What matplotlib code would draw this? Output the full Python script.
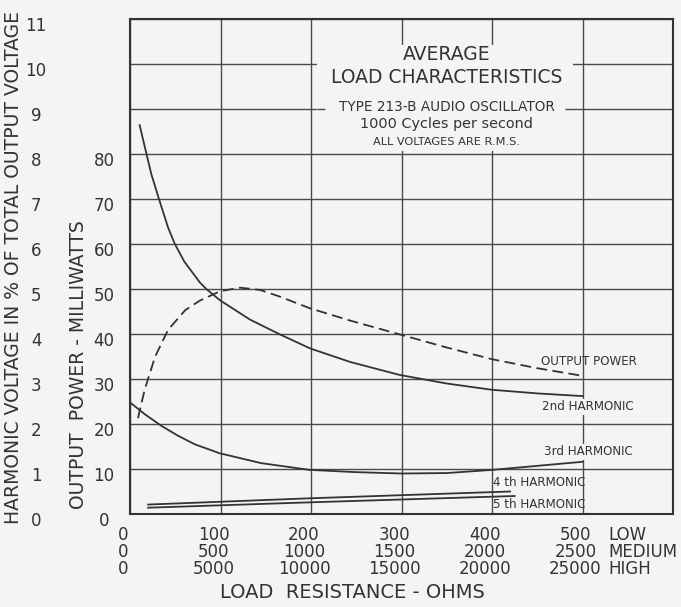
import matplotlib
matplotlib.use('Agg')
import matplotlib.pyplot as plt
import matplotlib.transforms as mtransforms
from matplotlib.patches import Rectangle

# ---------------- data ----------------
low_ticks = [0, 100, 200, 300, 400, 500]
medium_ticks = [0, 500, 1000, 1500, 2000, 2500]
high_ticks = [0, 5000, 10000, 15000, 20000, 25000]
range_names = ["LOW", "MEDIUM", "HIGH"]
harm_ticks = list(range(0, 12))
power_ticks = list(range(0, 90, 10))

# output power (mW) vs load (LOW-range ohms)
power_x = [8.8, 16.2, 27.6, 42, 61, 77, 99.4, 121.5, 143.6, 165.7, 199, 243, 300, 350, 400, 450, 500]
power_mw = [21.3, 27.6, 34.9, 40.9, 45.3, 47.4, 49.5, 50.3, 49.8, 48.3, 45.7, 43.0, 39.8, 37.0, 34.4, 32.4, 30.7]

# harmonic voltage in % of total output voltage
h2_x = [10.7, 16.2, 23.6, 31.7, 42, 49.3, 60, 77, 84.3, 99.4, 132.6, 165.7, 199, 243, 298, 350, 400, 450, 500]
h2 = [8.64, 8.17, 7.55, 7.02, 6.37, 6.01, 5.61, 5.15, 5.00, 4.75, 4.32, 3.99, 3.68, 3.38, 3.09, 2.90, 2.76, 2.68, 2.62]

h3_x = [0, 16.2, 34.6, 53, 71.5, 99, 145, 198.5, 250, 300, 350, 400, 450, 500]
h3 = [2.48, 2.22, 1.96, 1.74, 1.55, 1.35, 1.13, 0.98, 0.93, 0.90, 0.91, 0.98, 1.07, 1.16]

h4_x = [20, 200, 420]
h4 = [0.21, 0.35, 0.50]

h5_x = [20, 200, 425]
h5 = [0.14, 0.26, 0.40]

# ---------------- style ----------------
BG = '#f4f4f2'
INK = '#333333'
GRID = '#4a4a4a'
plt.rcParams['font.family'] = ['DejaVu Sans']

fig = plt.figure(figsize=(6.81, 6.07), dpi=100, facecolor=BG)
W, H = 681, 607
L, R, T, B = 130, 673, 19, 514
ax = fig.add_axes([L / W, 1 - B / H, (R - L) / W, (B - T) / H])
ax.set_facecolor(BG)
ax.set_xlim(0, 600)
ax.set_ylim(0, 11)
ax.set_xticks(low_ticks + [600])
ax.set_yticks(harm_ticks)
ax.tick_params(length=0, labelleft=False, labelbottom=False)
ax.grid(True, color=GRID, linewidth=1.0, zorder=0)
ax.set_axisbelow(True)
for s in ax.spines.values():
    s.set_color(INK)
    s.set_linewidth(1.5)

ax2 = ax.twinx()
ax2.set_ylim(0, 110)
ax2.set_yticks([])
for s in ax2.spines.values():
    s.set_visible(False)

# title box blanking grid
ax.add_patch(Rectangle((207, 8.06), 282, 2.36, facecolor=BG, edgecolor='none', zorder=1.5))
ax.hlines([9, 9], [207, 481], [215, 489], color=GRID, linewidth=1.0, zorder=1.6)

# curves
lw = 1.3
ax.plot(h2_x, h2, color=INK, lw=lw, zorder=3, solid_joinstyle='round')
ax.plot(h3_x, h3, color=INK, lw=lw, zorder=3, solid_joinstyle='round')
ax.plot(h4_x, h4, color=INK, lw=lw, zorder=3)
ax.plot(h5_x, h5, color=INK, lw=lw, zorder=3)
ax2.plot(power_x, power_mw, color=INK, lw=lw, dashes=(6, 3), zorder=3)

# title text
cx = 350
ax.text(cx, 10.20, "AVERAGE", ha='center', va='center', fontsize=13.5, color=INK, zorder=4)
ax.text(cx, 9.71, "LOAD CHARACTERISTICS", ha='center', va='center', fontsize=13.5, color=INK, zorder=4)
ax.text(cx, 9.04, "TYPE 213-B AUDIO OSCILLATOR", ha='center', va='center', fontsize=9.8, color=INK, zorder=4)
ax.text(cx, 8.67, "1000 Cycles per second", ha='center', va='center', fontsize=10.4, color=INK, zorder=4)
ax.text(cx, 8.27, "ALL VOLTAGES ARE R.M.S.", ha='center', va='center', fontsize=8.2, color=INK, zorder=4)

# curve labels
bb = dict(facecolor=BG, edgecolor='none', pad=1.0)
fs_lab = 8.6
ax.text(507, 3.38, "OUTPUT POWER", ha='center', va='center', fontsize=fs_lab, color=INK, zorder=4)
ax.text(506, 2.38, "2nd HARMONIC", ha='center', va='center', fontsize=fs_lab, color=INK, zorder=4, bbox=bb)
ax.text(507, 1.38, "3rd HARMONIC", ha='center', va='center', fontsize=fs_lab, color=INK, zorder=4, bbox=bb)
ax.text(452, 0.69, "4 th HARMONIC", ha='center', va='center', fontsize=fs_lab, color=INK, zorder=4)
ax.text(452, 0.20, "5 th HARMONIC", ha='center', va='center', fontsize=fs_lab, color=INK, zorder=4)

# left tick labels
down = mtransforms.ScaledTranslation(0, -0.07, fig.dpi_scale_trans)
tr_h = mtransforms.blended_transform_factory(fig.transFigure, ax.transData) + down
for v in harm_ticks:
    fig.text(36 / W, v, str(v), transform=tr_h, ha='center', va='center', fontsize=12, color=INK)
tr_p = mtransforms.blended_transform_factory(fig.transFigure, ax2.transData) + down
for v in power_ticks:
    fig.text(104 / W, v, str(v), transform=tr_p, ha='center', va='center', fontsize=12, color=INK)

# bottom tick labels
left = mtransforms.ScaledTranslation(-0.07, 0, fig.dpi_scale_trans)
tr_x = mtransforms.blended_transform_factory(ax.transData, fig.transFigure) + left
rows_y = [535, 552, 569]
for row, ticks in zip(rows_y, [low_ticks, medium_ticks, high_ticks]):
    for x, lab in zip(low_ticks, ticks):
        fig.text(x, 1 - row / H, str(lab), transform=tr_x, ha='center', va='center', fontsize=12, color=INK)
for row, name in zip(rows_y, range_names):
    fig.text(608 / W, 1 - row / H, name, ha='left', va='center', fontsize=12, color=INK)

fig.text(352 / W, 1 - 592 / H, "LOAD  RESISTANCE - OHMS", ha='center', va='center', fontsize=14, color=INK)
fig.text(14 / W, 1 - 268 / H, "HARMONIC VOLTAGE IN % OF TOTAL OUTPUT VOLTAGE", rotation=90,
         ha='center', va='center', fontsize=13.5, color=INK)
fig.text(79 / W, 1 - 365 / H, "OUTPUT  POWER - MILLIWATTS", rotation=90,
         ha='center', va='center', fontsize=13.5, color=INK)

fig.savefig('out.png', dpi=100, facecolor=BG)
